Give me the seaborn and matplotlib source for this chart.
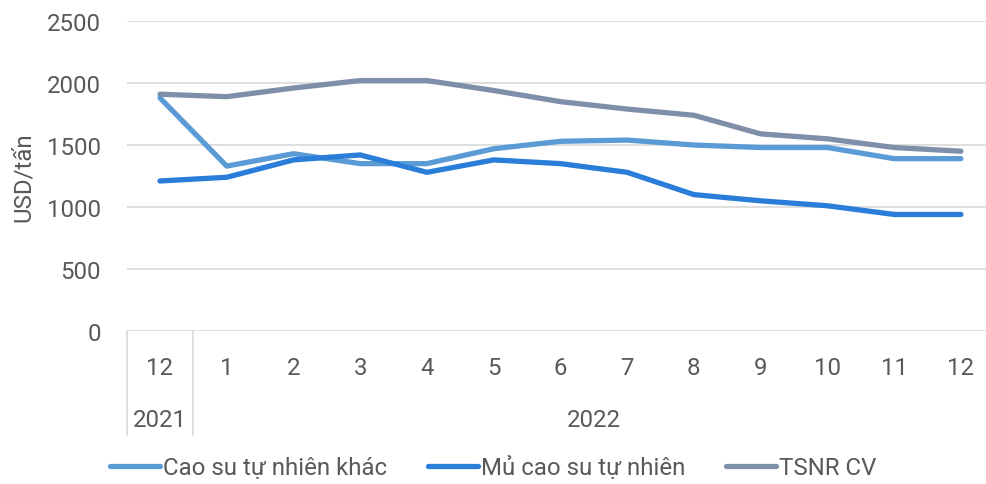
import matplotlib
matplotlib.use("Agg")
import matplotlib.pyplot as plt
import matplotlib.transforms as mtransforms
import seaborn as sns
import pandas as pd

sns.set_theme(style="white")
plt.rcParams['font.family'] = ['Roboto', 'DejaVu Sans']

# Monthly prices, Dec 2021 - Dec 2022 (USD/tấn)
months = ["12", "1", "2", "3", "4", "5", "6", "7", "8", "9", "10", "11", "12"]
years = ["2021", "2022"]
year_spans = [(0, 0), (1, 12)]
series_names = ["Cao su tự nhiên khác", "Mủ cao su tự nhiên", "TSNR CV"]
cao_su_khac = [1880, 1330, 1430, 1350, 1350, 1470, 1530, 1540, 1500, 1480, 1480, 1390, 1390]
mu_cao_su = [1210, 1240, 1380, 1420, 1280, 1380, 1350, 1280, 1100, 1050, 1010, 940, 940]
tsnr_cv = [1910, 1890, 1960, 2020, 2020, 1940, 1850, 1790, 1740, 1590, 1550, 1480, 1450]
yticks = [0, 500, 1000, 1500, 2000, 2500]

palette = {"Cao su tự nhiên khác": "#5B9BD5",
           "Mủ cao su tự nhiên": "#2A7DD8",
           "TSNR CV": "#7F8EA9"}

rows = []
for name, vals in zip(series_names, [cao_su_khac, mu_cao_su, tsnr_cv]):
    for i, v in enumerate(vals):
        rows.append({"pos": i, "value": v, "series": name})
df = pd.DataFrame(rows)

FS = 17.3
TXT = "#595959"

fig = plt.figure(figsize=(9.86, 4.85), dpi=100)
ax = fig.add_axes([0.1284, 0.3155, 0.880, 0.639])

sns.lineplot(data=df, x="pos", y="value", hue="series", hue_order=series_names,
             palette=palette, linewidth=3.8, ax=ax, legend=False)
for line in ax.lines:
    line.set_solid_capstyle("round")
    line.set_solid_joinstyle("round")

grid_c = "#D9D9D9"
ax.set_xlim(-0.5, len(months) - 0.5)
ax.set_ylim(0, 2500)
ax.set_yticks(yticks)
ax.yaxis.grid(True, color=grid_c, linewidth=1.2)
ax.set_axisbelow(True)
for s in ax.spines.values():
    s.set_visible(False)
ax.tick_params(axis="both", length=0, labelsize=FS, colors=TXT)
ax.tick_params(axis="y", pad=18.5)
ax.set_xticks(range(len(months)))
ax.set_xticklabels(months)
ax.tick_params(axis="x", pad=18)
ax.set_xlabel("")
ax.set_ylabel("USD/tấn", fontsize=FS, color=TXT)
ax.yaxis.set_label_coords(-0.106, 0.5)

# Two-level category axis: year labels and separators
trans = mtransforms.blended_transform_factory(ax.transData, ax.transAxes)
for yr, (a, b) in zip(years, year_spans):
    ax.text((a + b) / 2, -0.287, yr, transform=trans, ha="center", va="center",
            fontsize=FS, color=TXT)
for xsep in [-0.5, 0.5]:
    ax.plot([xsep, xsep], [0, -0.335], transform=trans, color=grid_c,
            linewidth=1.2, clip_on=False)

# Legend below the plot
handles = [plt.Line2D([0], [0], color=palette[n], linewidth=3.8,
                      solid_capstyle="round") for n in series_names]
fig.legend(handles, series_names, loc="lower center", ncol=3, frameon=False,
           bbox_to_anchor=(0.5, -0.035), fontsize=FS, handlelength=2.1,
           handletextpad=0.1, columnspacing=1.7, labelcolor=TXT)

fig.savefig("out.png", dpi=100)
